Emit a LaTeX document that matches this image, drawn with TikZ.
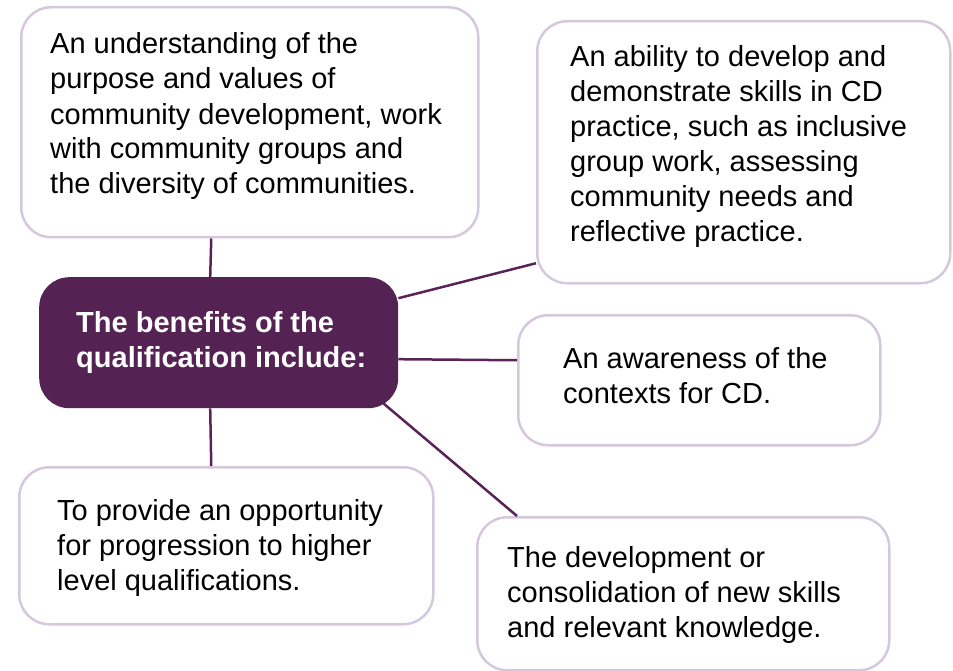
\documentclass[tikz,border=0pt]{standalone}
\usepackage{fontspec}
\setmainfont{Liberation Sans}
\definecolor{boxline}{RGB}{214,200,220}
\definecolor{plum}{RGB}{85,34,84}
\definecolor{connline}{RGB}{90,35,88}
\begin{document}
\begin{tikzpicture}[x=1pt,y=-1pt,
  box/.style={draw=boxline,line width=2.5pt,rounded corners=30pt,fill=white,anchor=north west,inner sep=0pt},
  hub/.style={fill=plum,rounded corners=30pt,anchor=north west,inner sep=0pt},
  txt/.style={anchor=base west,align=left,inner sep=0pt,font=\fontsize{29}{35}\selectfont},
  hubtxt/.style={txt,text=white,font=\fontsize{29}{35}\selectfont\bfseries},
  conn/.style={draw=connline,line width=2.5pt}]
\useasboundingbox (0,0) rectangle (953,671);
\node[box,minimum width=457pt,minimum height=230pt] (b1) at (20,6) {};
\node[box,minimum width=413pt,minimum height=262pt] (b2) at (536,20) {};
\node[hub,minimum width=359pt,minimum height=131pt] (c) at (39,277) {};
\node[box,minimum width=362pt,minimum height=130pt] (b3) at (517,314) {};
\node[box,minimum width=414pt,minimum height=157pt] (b4) at (18,466) {};
\node[box,minimum width=412pt,minimum height=153pt] (b5) at (476,516) {};
\draw[conn] ([xshift=-38.5pt]b1.south) -- ([xshift=-8.5pt]c.north);
\draw[conn] ([yshift=44.5pt]c.east) -- ([yshift=-111pt]b2.west);
\draw[conn] ([yshift=-16.5pt]c.east) -- ([yshift=20pt]b3.west);
\draw[conn] ([xshift=-15pt,yshift=5pt]c.south east) -- ([xshift=41pt]b5.north west);
\draw[conn] ([xshift=-8.5pt]c.south) -- ([xshift=-15pt]b4.north);
\node[txt] (t1) at (50,194) {An understanding of the\\purpose and values of\\community development, work\\with community groups and\\the diversity of communities.};
\node[txt] (t2) at (570,241) {An ability to develop and\\demonstrate skills in CD\\practice, such as inclusive\\group work, assessing\\community needs and\\reflective practice.};
\node[hubtxt] (tc) at (76,367) {The benefits of the\\qualification include:};
\node[txt] (t3) at (563,403) {An awareness of the\\contexts for CD.};
\node[txt] (t4) at (57,590) {To provide an opportunity\\for progression to higher\\level qualifications.};
\node[txt] (t5) at (507,637) {The development or\\consolidation of new skills\\and relevant knowledge.};
\end{tikzpicture}
\end{document}
